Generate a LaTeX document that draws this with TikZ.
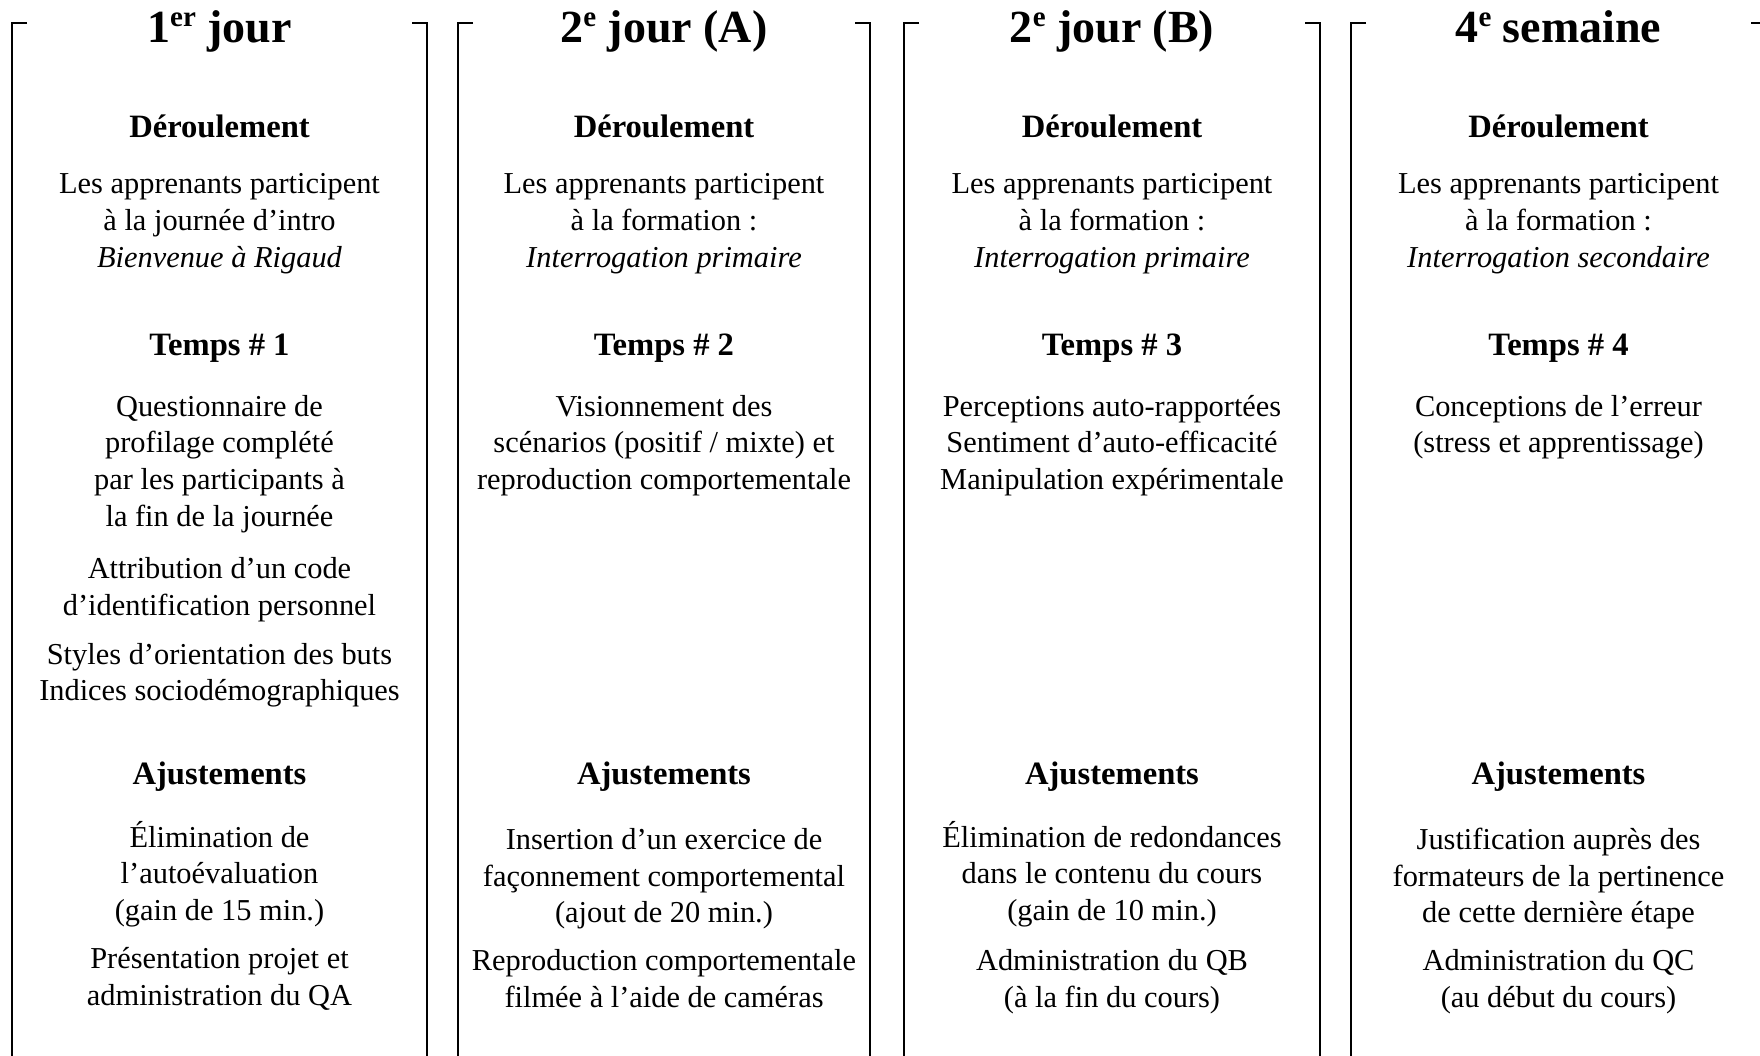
\documentclass[tikz,border=0pt]{standalone}
\usepackage{fontspec}
\setmainfont{Liberation Serif}
% raised ordinal suffix for the column titles
\newcommand\ordsup[1]{\raisebox{0.34em}{\fontsize{14.5}{15}\selectfont #1}}
% a block of centred lines: name prefix, x, first baseline, lines
\newcommand\lineblock[4]{%
  \foreach \txt [count=\i, evaluate=\i as \yy using {#3+2+(\i-1)*36.6}] in {#4}
    {\node[body] (#1-\i) at (#2,\yy) {\txt};}}
\begin{document}
\begin{tikzpicture}[x=0.5pt,y=-0.5pt,
  bracketline/.style={line width=1pt},
  coltitle/.style={anchor=base, inner sep=0pt, font=\fontsize{23}{27}\selectfont\bfseries},
  head/.style={anchor=base, inner sep=0pt, yshift=-1pt, font=\fontsize{16.3}{19}\selectfont\bfseries},
  body/.style={anchor=base, inner sep=0pt, font=\fontsize{15.2}{18.3}\selectfont}]
\useasboundingbox (0,0) rectangle (1760,1055);

% column brackets (open at the bottom)
\foreach \xl/\xr in {12/427, 458/870, 904/1320, 1351/1766}{
  \draw[bracketline] (\xl+15,23) -- (\xl,23) -- (\xl,1070);
  \draw[bracketline] (\xr-15,23) -- (\xr,23) -- (\xr,1070);
}

% ---- column 1
\node[coltitle] (c1title) at (219.5,42) {1\ordsup{er} jour};
\node[head] (c1der) at (219.5,135.8) {Déroulement};
\lineblock{c1d}{219.5}{191.9}{Les apprenants participent, à la journée d’intro, \textit{Bienvenue à Rigaud}}
\node[head] (c1tps) at (219.5,353.6) {Temps \# 1};
\lineblock{c1ta}{219.5}{414.2}{Questionnaire de, profilage complété, par les participants à, la fin de la journée}
\lineblock{c1tb}{219.5}{576.9}{Attribution d’un code, d’identification personnel}
\lineblock{c1tc}{219.5}{662.2}{Styles d’orientation des buts, Indices sociodémographiques}
\node[head] (c1aj) at (219.5,782.3) {Ajustements};
\lineblock{c1aa}{219.5}{845.2}{Élimination de, l’autoévaluation, (gain de 15 min.)}
\lineblock{c1ab}{219.5}{966.4}{Présentation projet et, administration du QA}

% ---- column 2
\node[coltitle] (c2title) at (664,42) {2\ordsup{e} jour (A)};
\node[head] (c2der) at (664,135.8) {Déroulement};
\lineblock{c2d}{664}{191.9}{Les apprenants participent, à la formation~:, \textit{Interrogation primaire}}
\node[head] (c2tps) at (664,353.6) {Temps \# 2};
\lineblock{c2ta}{664}{414.2}{Visionnement des, scénarios (positif / mixte) et, reproduction comportementale}
\node[head] (c2aj) at (664,782.3) {Ajustements};
\lineblock{c2aa}{664}{847.4}{Insertion d’un exercice de, façonnement comportemental, (ajout de 20 min.)}
\lineblock{c2ab}{664}{968.7}{Reproduction comportementale, filmée à l’aide de caméras}

% ---- column 3
\node[coltitle] (c3title) at (1112,42) {2\ordsup{e} jour (B)};
\node[head] (c3der) at (1112,135.8) {Déroulement};
\lineblock{c3d}{1112}{191.9}{Les apprenants participent, à la formation~:, \textit{Interrogation primaire}}
\node[head] (c3tps) at (1112,353.6) {Temps \# 3};
\lineblock{c3ta}{1112}{414.2}{Perceptions auto-rapportées, Sentiment d’auto-efficacité, Manipulation expérimentale}
\node[head] (c3aj) at (1112,782.3) {Ajustements};
\lineblock{c3aa}{1112}{845.2}{Élimination de redondances, dans le contenu du cours, (gain de 10 min.)}
\lineblock{c3ab}{1112}{968.6}{Administration du QB, (à la fin du cours)}

% ---- column 4
\node[coltitle] (c4title) at (1558.5,42) {4\ordsup{e} semaine};
\node[head] (c4der) at (1558.5,135.8) {Déroulement};
\lineblock{c4d}{1558.5}{191.9}{Les apprenants participent, à la formation~:, \textit{Interrogation secondaire}}
\node[head] (c4tps) at (1558.5,353.6) {Temps \# 4};
\lineblock{c4ta}{1558.5}{414.2}{Conceptions de l’erreur, (stress et apprentissage)}
\node[head] (c4aj) at (1558.5,782.3) {Ajustements};
\lineblock{c4aa}{1558.5}{847.4}{Justification auprès des, formateurs de la pertinence, de cette dernière étape}
\lineblock{c4ab}{1558.5}{968.7}{Administration du QC, (au début du cours)}
\end{tikzpicture}
\end{document}
